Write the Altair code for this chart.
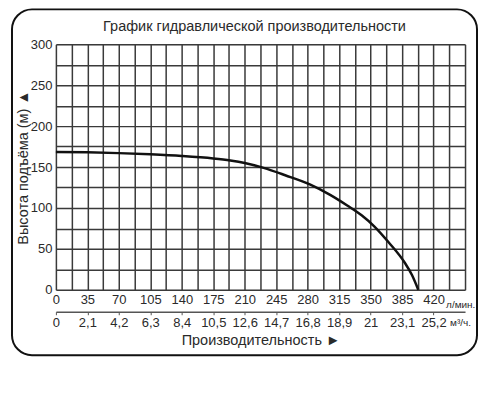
import altair as alt
import pandas as pd

# Pump curve: flow (l/min) vs head (m)
flow = [0, 35, 70, 105, 140, 175, 194, 210, 231, 255, 283, 305, 324, 340, 354, 370, 388, 396, 403]
head = [168.5, 168, 167, 165.5, 163.5, 160.5, 158, 155, 149, 140, 128.5, 116, 103, 91, 77.5, 58, 33, 18, 0]

x_ticks = [0, 35, 70, 105, 140, 175, 210, 245, 280, 315, 350, 385, 420]
x_grid = [i * 17.5 for i in range(27)]
y_grid = [i * 25 for i in range(13)]

title_text = ["График гидравлической производительности"]
unit_text = ["л/мин.", "м³/ч."]

FONT = "Liberation Sans"
W, H = 410, 246

df = pd.DataFrame({"q": flow, "h": head})
xscale = alt.Scale(domain=[0, 455], nice=False, zero=False)
yscale = alt.Scale(domain=[0, 300], nice=False)

gridcol = "#3a3a3a"
txtcol = "#2a2a2a"

frame = alt.Chart(pd.DataFrame({"a": [0]})).mark_rect(
    fill=None, stroke="#111", strokeWidth=2, cornerRadius=20
).encode(
    x=alt.value(-44), x2=alt.value(422), y=alt.value(-35), y2=alt.value(311.5)
)

title = alt.Chart(pd.DataFrame({"t": title_text})).mark_text(
    font=FONT, fontSize=14.5, color=txtcol, align="center", baseline="middle"
).encode(x=alt.value(199), y=alt.value(-17), text="t:N")

line = alt.Chart(df).mark_line(
    color="#111", strokeWidth=2.5, interpolate="monotone"
).encode(
    x=alt.X("q:Q", scale=xscale, axis=alt.Axis(
        orient="bottom", values=x_grid, grid=True, gridColor=gridcol, gridWidth=1.5,
        gridOpacity=1, ticks=False, domain=False, title=None,
        labelExpr="(datum.value % 35 == 0 && datum.value <= 420) ? datum.label : ''",
        labelFont=FONT, labelFontSize=13, labelColor=txtcol, labelPadding=4,
        format="d", labelFlush=False)),
    y=alt.Y("h:Q", scale=yscale, axis=alt.Axis(
        values=y_grid, grid=True, gridColor=gridcol, gridWidth=1.5, gridOpacity=1,
        ticks=False, domain=False,
        labelExpr="datum.value % 50 == 0 ? datum.label : ''",
        labelFont=FONT, labelFontSize=13, labelColor=txtcol, labelPadding=4,
        title="Высота подъёма (м) ▲", titleFont=FONT, titleFontSize=14.5,
        titleFontWeight="normal", titleColor=txtcol, titlePadding=0)),
)

axis2 = alt.Chart(df).mark_point(opacity=0).encode(
    x=alt.X("q:Q", scale=xscale, axis=alt.Axis(
        orient="bottom", offset=22, values=x_ticks, grid=False, domain=True,
        domainColor="#555", domainWidth=1.5, ticks=True, tickSize=3, tickColor="#555",
        labelExpr="replace(format(datum.value * 0.06, '.1~f'), '.', ',')",
        labelFont=FONT, labelFontSize=13, labelColor=txtcol, labelPadding=2,
        labelFlush=False,
        title="Производительность ►", titleFont=FONT, titleFontSize=14.5,
        titleFontWeight="normal", titleColor=txtcol, titlePadding=4)),
    y=alt.value(0),
)

units = alt.Chart(pd.DataFrame({"t": unit_text, "px": [391, 395], "py": [261, 279]})).mark_text(
    font=FONT, fontSize=10, color=txtcol, align="left", baseline="middle"
).encode(x=alt.X("px:Q", scale=None), y=alt.Y("py:Q", scale=None), text="t:N")

chart = alt.layer(frame, title, line, axis2, units).resolve_axis(x="independent").properties(
    width=W, height=H,
    padding={"left": 3, "top": 0, "right": 1, "bottom": 5},
).configure_view(stroke="#222", strokeWidth=1.5).configure(background="white")

chart.save("out.html", embed_options={"renderer": "svg", "actions": False})
